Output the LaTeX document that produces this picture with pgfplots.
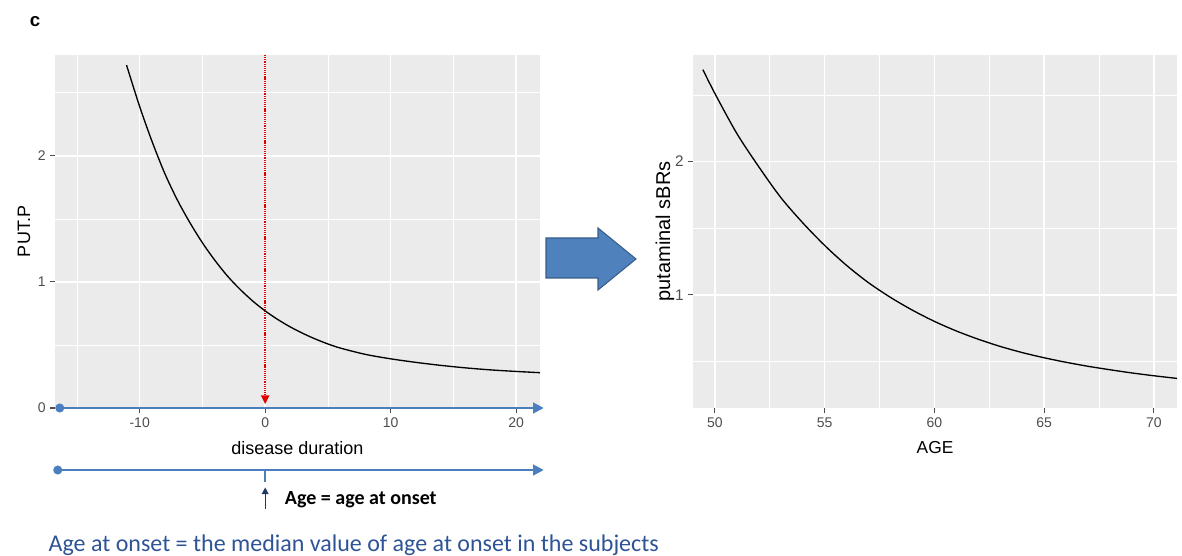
\documentclass[border=0pt]{standalone}
\usepackage{pgfplots}
\pgfplotsset{compat=1.18}
\usepackage{fontspec}
\setmainfont{Liberation Sans}
\newfontfamily\carlito{Carlito}
\usetikzlibrary{arrows.meta}
\definecolor{panelbg}{HTML}{EBEBEB}
\definecolor{ticklab}{HTML}{4D4D4D}
\definecolor{lineblue}{RGB}{74,126,190}
\definecolor{bigfill}{HTML}{4F81BD}
\definecolor{bigedge}{HTML}{385D8A}
\definecolor{navy}{HTML}{1F3864}
\definecolor{txtblue}{RGB}{46,84,150}
\definecolor{refred}{RGB}{225,0,0}
\pgfplotsset{gg/.style={
  scale only axis, clip=false,
  axis background/.style={fill=panelbg},
  axis line style={draw=none},
  grid=both,
  major grid style={white, line width=1.1pt},
  minor grid style={white, line width=0.55pt},
  tick align=outside,
  major tick length=3.5pt,
  minor tick length=0pt,
  tick style={ticklab, line width=0.8pt},
  xtick pos=bottom, ytick pos=left,
  tick label style={font=\fontsize{10.5}{12}\selectfont, text=ticklab},
  label style={font=\fontsize{13.5}{15}\selectfont},
}}
\begin{document}
\begin{tikzpicture}
\path[use as bounding box] (0,0) rectangle (886.5pt,417pt);
\node[font=\bfseries\fontsize{14}{16}\selectfont] at (26.25pt,400.5pt) {c};
% left panel
\begin{axis}[gg, at={(41.25pt,111pt)}, anchor=south west,
  width=363.75pt, height=264.75pt,
  xmin=-16.75, xmax=21.9, ymin=0, ymax=2.8,
  xtick={-10,0,10,20}, xticklabels={-10,0,10,20}, minor xtick={-15,-5,5,15},
  ytick={0,1,2}, yticklabels={0,1,2}, minor ytick={0.5,1.5,2.5},
  xlabel={disease duration}, ylabel={PUT.P},
  xlabel style={at={(axis description cs:0.5,-0.113)}, anchor=center},
  ylabel style={at={(axis description cs:-0.064,0.5)}, anchor=center}]
\draw[refred, line width=1.1pt, dash pattern=on 0.9pt off 0.7pt] (axis cs:0,2.8) -- (axis cs:0,0.09);
\fill[refred] (axis cs:0,0.032) -- (axis cs:-0.34,0.1) -- (axis cs:0.34,0.1) -- cycle;
\addplot[black, line width=1pt, smooth] coordinates {
(-11.05,2.72) (-10,2.39) (-9,2.11) (-8,1.86) (-7,1.65) (-6,1.47) (-5,1.31)
(-4,1.17) (-3,1.046) (-2,0.941) (-1,0.849) (0,0.770) (1,0.702) (2,0.643) (3,0.592)
(4,0.547) (5,0.508) (6,0.475) (8,0.425) (10,0.390) (12,0.362)
(14,0.338) (16,0.318) (18,0.302) (20,0.290) (21.9,0.280)};
\draw[lineblue, line width=1.6pt, -{Triangle[length=8pt,width=8pt]}] (axis cs:-16.37,0) -- (axis cs:22.2,0);
\fill[lineblue] (axis cs:-16.37,0) circle (3.4pt);
\draw[lineblue, line width=1.6pt, -{Triangle[length=8pt,width=8pt]}] (axis cs:-16.53,-0.492) -- (axis cs:22.2,-0.492);
\fill[lineblue] (axis cs:-16.53,-0.492) circle (3.4pt);
\draw[lineblue, line width=1.6pt] (axis cs:0,-0.492) -- (axis cs:0,-0.59);
\draw[navy, line width=1pt, -{Triangle[length=5pt,width=5pt]}] (axis cs:0,-0.80) -- (axis cs:0,-0.63);
\node[anchor=west, font=\carlito\bfseries\fontsize{15}{17}\selectfont] at (axis cs:1.2,-0.73) {Age = age at onset};
\end{axis}
% big arrow
\filldraw[fill=bigfill, draw=bigedge, line width=0.8pt] (409.5pt,238.5pt) -- (448.5pt,238.5pt) -- (448.5pt,246pt) -- (477pt,222.75pt) -- (448.5pt,199.5pt) -- (448.5pt,208.5pt) -- (409.5pt,208.5pt) -- cycle;
% right panel
\begin{axis}[gg, at={(519.75pt,111pt)}, anchor=south west,
  width=363pt, height=264.75pt,
  xmin=49.0, xmax=71.05, ymin=0.15, ymax=2.8,
  xtick={50,55,60,65,70}, xticklabels={50,55,60,65,70}, minor xtick={52.5,57.5,62.5,67.5},
  ytick={1,2}, yticklabels={1,2}, minor ytick={0.5,1.5,2.5},
  yticklabel style={font=\fontsize{11.5}{13}\selectfont},
  xlabel={AGE}, ylabel={putaminal sBRs},
  xlabel style={at={(axis description cs:0.5,-0.113)}, anchor=center, font=\fontsize{13}{15}\selectfont},
  ylabel style={at={(axis description cs:-0.058,0.5)}, anchor=center, font=\fontsize{15}{17}\selectfont}]
\addplot[black, line width=1pt, smooth] coordinates {
(49.45,2.69) (50,2.51) (51,2.21) (52,1.96) (53,1.73) (54,1.54) (55,1.37)
(56,1.22) (57,1.09) (58,0.98) (59,0.884) (60,0.800) (61,0.728) (62,0.666)
(63,0.612) (64,0.566) (65,0.527) (66,0.493) (67,0.463) (68,0.437) (69,0.413)
(70,0.392) (71.05,0.372)};
\end{axis}
\node[anchor=west, font=\carlito\fontsize{18}{21}\selectfont, text=txtblue] at (33pt,8.25pt) {Age at onset = the median value of age at onset in the subjects};
\end{tikzpicture}
\end{document}
